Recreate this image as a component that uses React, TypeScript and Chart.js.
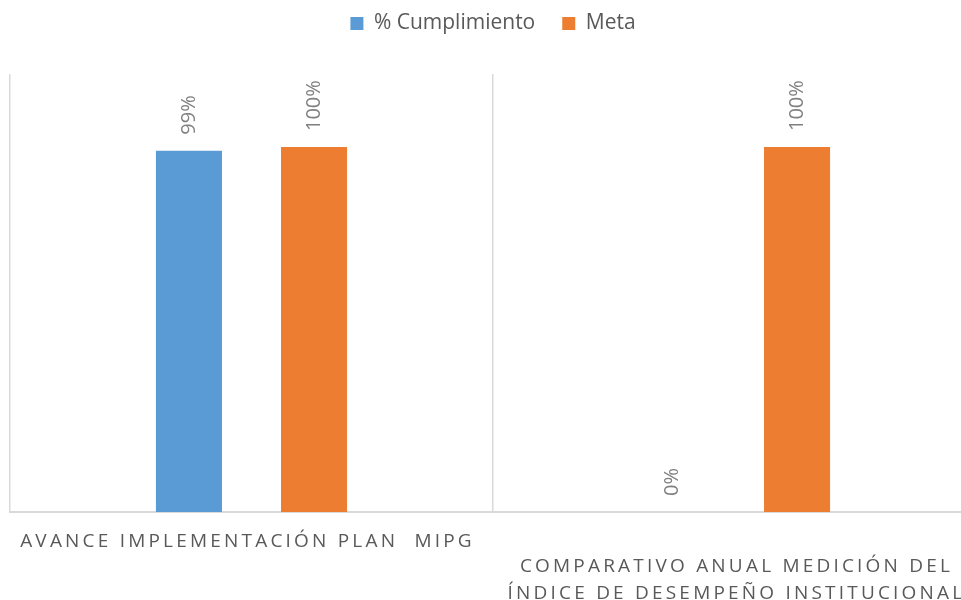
import { useEffect, useRef } from "react";
import { Chart, registerables } from "chart.js";

Chart.register(...registerables);

const categories: string[][] = [
  ["AVANCE IMPLEMENTACIÓN PLAN  MIPG"],
  ["COMPARATIVO ANUAL MEDICIÓN DEL", "ÍNDICE DE DESEMPEÑO INSTITUCIONAL"],
];
const seriesNames = ["% Cumplimiento", "Meta"];
const cumplimiento = [99, 0];
const meta = [100, 100];
const yMax = 120;

const BLUE = "#5b9bd5";
const ORANGE = "#ed7d31";
const GRID = "#d9d9d9";
const TEXT = "#595959";
const LABEL = "#808080";
const FONT = "'Open Sans', 'DejaVu Sans', sans-serif";

const legendHeightPlugin = {
  id: "legendHeight",
  beforeInit(chart: any) {
    const legend = chart.legend;
    if (!legend) return;
    const origFit = legend.fit;
    legend.fit = function () {
      origFit.call(this);
      this.height = 88;
    };
  },
};

const dataLabelPlugin = {
  id: "rotatedDataLabels",
  afterDatasetsDraw(chart: any) {
    const ctx = chart.ctx;
    ctx.save();
    ctx.fillStyle = LABEL;
    ctx.font = `20px ${FONT}`;
    ctx.textAlign = "left";
    ctx.textBaseline = "middle";
    chart.data.datasets.forEach((ds: any, di: number) => {
      const m = chart.getDatasetMeta(di);
      m.data.forEach((bar: any, i: number) => {
        const v = ds.data[i];
        ctx.save();
        ctx.translate(bar.x, bar.y - 16);
        ctx.rotate(-Math.PI / 2);
        ctx.fillText(`${v}%`, 0, 0);
        ctx.restore();
      });
    });
    ctx.restore();
  },
};

const xLabelPlugin = {
  id: "staggeredXLabels",
  afterDraw(chart: any) {
    const ctx = chart.ctx;
    const x = chart.scales.x;
    const base = chart.chartArea.bottom;
    ctx.save();
    ctx.fillStyle = TEXT;
    ctx.font = `19px ${FONT}`;
    (ctx as any).letterSpacing = "3.2px";
    ctx.textAlign = "center";
    ctx.textBaseline = "middle";
    const labels = chart.data.labels as string[][];
    labels.forEach((lines, i) => {
      const cx = x.getPixelForValue(i) + (i % 2 === 0 ? -4 : 2);
      const startY = base + 30 + (i % 2) * 25;
      lines.forEach((line, li) => {
        ctx.fillText(line, cx, startY + li * 27);
      });
    });
    ctx.restore();
  },
};

export default function App() {
  const ref = useRef<HTMLCanvasElement | null>(null);

  useEffect(() => {
    document.body.style.margin = "0";
    if (!ref.current) return;
    const chart = new Chart(ref.current, {
      type: "bar",
      data: {
        labels: categories as any,
        datasets: [
          {
            label: seriesNames[0],
            data: cumplimiento,
            backgroundColor: BLUE,
            borderWidth: 0,
            categoryPercentage: 0.518,
            barPercentage: 0.528,
          },
          {
            label: seriesNames[1],
            data: meta,
            backgroundColor: ORANGE,
            borderWidth: 0,
            categoryPercentage: 0.518,
            barPercentage: 0.528,
          },
        ],
      },
      options: {
        responsive: false,
        animation: false,
        devicePixelRatio: 1,
        layout: { padding: { left: 10, right: 14, top: -14, bottom: 88 } },
        plugins: {
          legend: {
            position: "top",
            labels: {
              boxWidth: 13,
              boxHeight: 13,
              padding: 27,
              color: TEXT,
              font: { family: FONT, size: 21 },
            },
          },
          tooltip: { enabled: false },
        },
        scales: {
          x: {
            grid: { display: true, color: GRID, lineWidth: 1.5, drawTicks: false, offset: true },
            border: { display: true, color: GRID, width: 2 },
            ticks: { display: false },
          },
          y: {
            display: false,
            min: 0,
            max: yMax,
          },
        },
      },
      plugins: [legendHeightPlugin, dataLabelPlugin, xLabelPlugin],
    });
    return () => chart.destroy();
  }, []);

  return (
    <div style={{ width: 961, height: 600, overflow: "hidden", background: "#fff" }}>
      <canvas ref={ref} width={990} height={600} style={{ display: "block" }} />
    </div>
  );
}
